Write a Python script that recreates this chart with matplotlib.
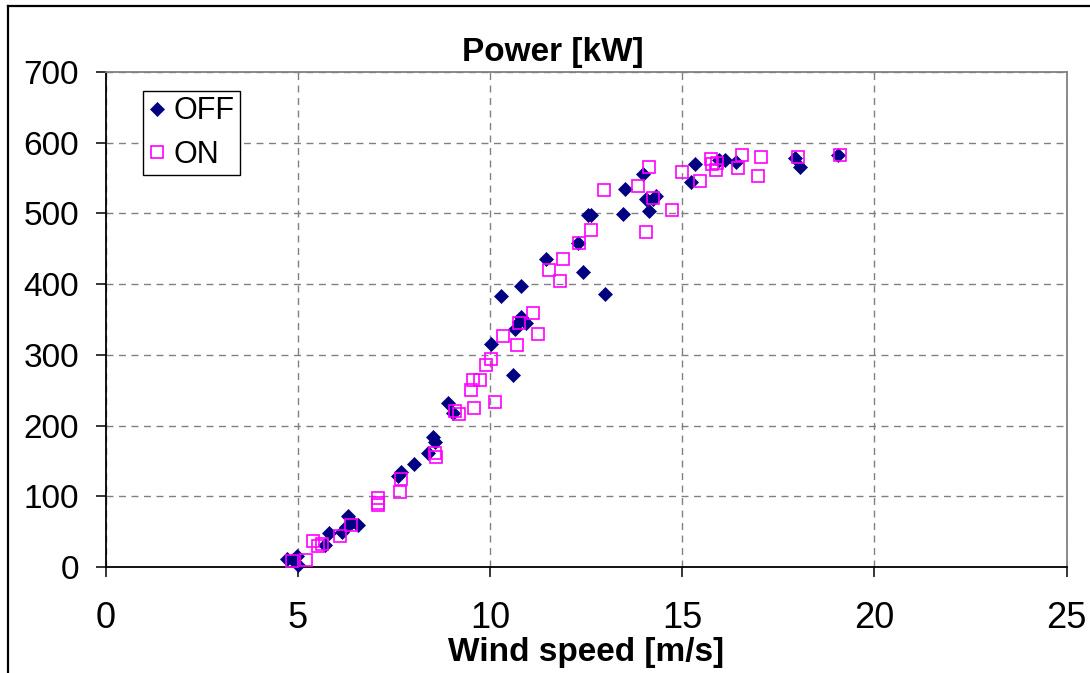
import matplotlib
matplotlib.use("Agg")
import matplotlib.pyplot as plt
from matplotlib.lines import Line2D

# ---- data ----
off_x = [4.71, 4.87, 4.97, 5.02, 5.71, 5.82, 6.14, 6.25, 6.32, 6.40, 6.56,
         7.62, 7.70, 8.03, 8.40, 8.53, 8.57, 8.92, 9.05, 10.04, 10.30, 10.59,
         10.65, 10.76, 10.80, 10.81, 10.94, 11.47, 12.30, 12.41, 12.56, 12.64,
         12.99, 13.45, 13.51, 13.97, 14.06, 14.14, 14.24, 14.33, 15.24, 15.33,
         15.96, 16.11, 16.39, 17.93, 18.06, 19.05]
off_y = [12, 10, 15, 3, 31, 48, 50, 57, 72, 64, 59,
         129, 135, 145, 161, 184, 177, 232, 218, 315, 383, 272,
         337, 347, 354, 398, 345, 435, 458, 417, 498, 498,
         386, 499, 534, 556, 521, 503, 521, 524, 545, 570,
         575, 575, 573, 578, 566, 582]

on_x = [4.86, 5.21, 5.41, 5.54, 5.62, 6.10, 6.39, 7.08, 7.08, 7.10, 7.66,
        7.69, 8.57, 8.60, 9.09, 9.19, 9.52, 9.57, 9.59, 9.74, 9.89, 10.04,
        10.13, 10.35, 10.71, 10.76, 11.13, 11.26, 11.54, 11.82, 11.91, 12.32,
        12.62, 12.97, 13.84, 14.05, 14.13, 14.25, 14.74, 15.00, 15.46, 15.76,
        15.79, 15.89, 15.92, 16.45, 16.57, 16.97, 17.04, 18.01, 19.12]
on_y = [9, 10, 37, 29, 32, 44, 59, 97, 91, 87, 106,
        125, 161, 155, 221, 217, 250, 264, 225, 264, 285, 294,
        233, 327, 314, 345, 359, 330, 420, 404, 436, 458,
        477, 533, 539, 474, 566, 522, 505, 558, 546, 577,
        570, 562, 572, 564, 582, 553, 580, 580, 582]

series_labels = ["OFF", "ON"]
x_ticks = [0, 5, 10, 15, 20, 25]
y_ticks = [0, 100, 200, 300, 400, 500, 600, 700]
title_text = "Power [kW]"
xlabel_text = "Wind speed [m/s]"

plt.rcParams['font.family'] = ['Liberation Sans', 'DejaVu Sans']

W, H = 1090, 673
fig = plt.figure(figsize=(W / 100, H / 100), dpi=100)
ax = fig.add_axes([105.5 / W, 1 - 567 / H, (1066.5 - 105.5) / W, (567 - 72) / H])

ax.set_xlim(0, 25)
ax.set_ylim(0, 700)
ax.set_xticks(x_ticks)
ax.set_yticks(y_ticks)

ax.grid(True, color='#808080', linestyle=(0, (5, 4)), linewidth=1.0)
ax.set_axisbelow(True)

ax.plot(off_x, off_y, linestyle='none', marker='D', markersize=7.0,
        color='#000080', markeredgewidth=0.5, label=series_labels[0],
        clip_on=False, zorder=3)
ax.plot(on_x, on_y, linestyle='none', marker='s', markersize=8.4,
        markerfacecolor='none', markeredgecolor='#FF00FF', markeredgewidth=1.2,
        label=series_labels[1], clip_on=False, zorder=4)

for s in ['left', 'bottom']:
    ax.spines[s].set_color('black')
    ax.spines[s].set_linewidth(1.3)
for s in ['top', 'right']:
    ax.spines[s].set_color('#808080')
    ax.spines[s].set_linewidth(1.3)

ax.tick_params(axis='both', direction='out', length=7.5, width=1.1, color='black')
ax.tick_params(axis='y', labelsize=24, pad=11.5)
ax.tick_params(axis='x', labelsize=26, pad=17)

fig.text(553 / W, 1 - 61 / H, title_text, ha='center', va='baseline',
         fontsize=24, fontweight='bold')
fig.text(586 / W, 1 - 661 / H, xlabel_text, ha='center', va='baseline',
         fontsize=24, fontweight='bold')

leg = ax.legend(loc='upper left', bbox_to_anchor=(142.7 / W, 1 - 91 / H),
                bbox_transform=fig.transFigure, fontsize=22, frameon=True,
                fancybox=False, framealpha=1, edgecolor='black',
                handlelength=0.6, handletextpad=0.25, borderpad=0.17,
                labelspacing=0.45, borderaxespad=0)
leg.get_frame().set_linewidth(1.0)

# outer chart-area border (top and left visible)
fig.add_artist(Line2D([8 / W, 8 / W], [0, 1 - 6 / H], transform=fig.transFigure,
                      color='black', linewidth=1.6))
fig.add_artist(Line2D([8 / W, 1], [1 - 6 / H, 1 - 6 / H], transform=fig.transFigure,
                      color='black', linewidth=1.6))

fig.savefig('out.png', dpi=100)
